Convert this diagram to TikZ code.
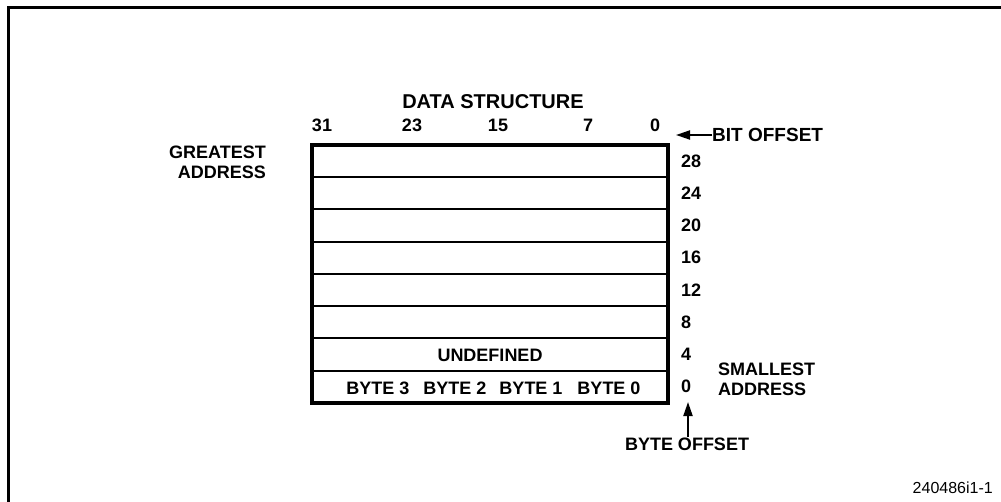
\documentclass[tikz,border=0pt]{standalone}
\usepackage{fontspec}
\setmainfont{Liberation Sans}
\usetikzlibrary{arrows.meta}
\tikzset{
  lbl/.style={font=\fontsize{18}{20}\selectfont\bfseries, inner sep=0pt},
  ptr/.style={-{Triangle[length=14pt,width=9pt]}, line width=2pt},
}
\begin{document}
\begin{tikzpicture}[x=1pt,y=-1pt]
\useasboundingbox (0,0) rectangle (1001,502);
\draw[line width=3pt] (8,502) -- (8,8) -- (1001,8);

\node[lbl, font=\fontsize{20}{22}\selectfont\bfseries] (title) at (493,102) {DATA STRUCTURE};

% bit positions
\foreach \b/\x in {31/322,23/412,15/498,7/588,0/655}
  \node[lbl] (bit\b) at (\x,125) {\b};

% the words
\draw[line width=4pt] (312,145) rectangle (668,403);
\foreach \k in {1,...,7}
  \draw[line width=2pt] (312,145+32.25*\k) -- (668,145+32.25*\k);

\foreach \a [count=\i from 0] in {28,24,20,16,12,8,4,0}
  \node[lbl, anchor=west] (off\a) at (681,161+32.25*\i) {\a};

\node[lbl] (undef) at (490,355) {UNDEFINED};
\foreach \n/\x in {3/378,2/455,1/531,0/609}
  \node[lbl] (byte\n) at (\x,388) {BYTE \n};

\node[lbl, anchor=east, align=right] (great) at (266,162) {GREATEST\\ADDRESS};
\node[lbl, anchor=west, align=left] (small) at (718,379) {SMALLEST\\ADDRESS};

% offsets
\node[lbl, font=\fontsize{19}{21}\selectfont\bfseries, anchor=west] (bitoff) at (712,135) {BIT OFFSET};
\coordinate (bittip) at (676,135);
\draw[ptr] (bitoff.west) -- (bittip);

\node[lbl] (byteoff) at (687,444) {BYTE OFFSET};
\coordinate (bytetip) at (688,402);
\draw[ptr] (byteoff.north -| bytetip) -- (bytetip);

\node[font=\fontsize{16}{18}\selectfont, inner sep=0pt, anchor=east] (figno) at (993,488) {240486i1-1};
\end{tikzpicture}
\end{document}
